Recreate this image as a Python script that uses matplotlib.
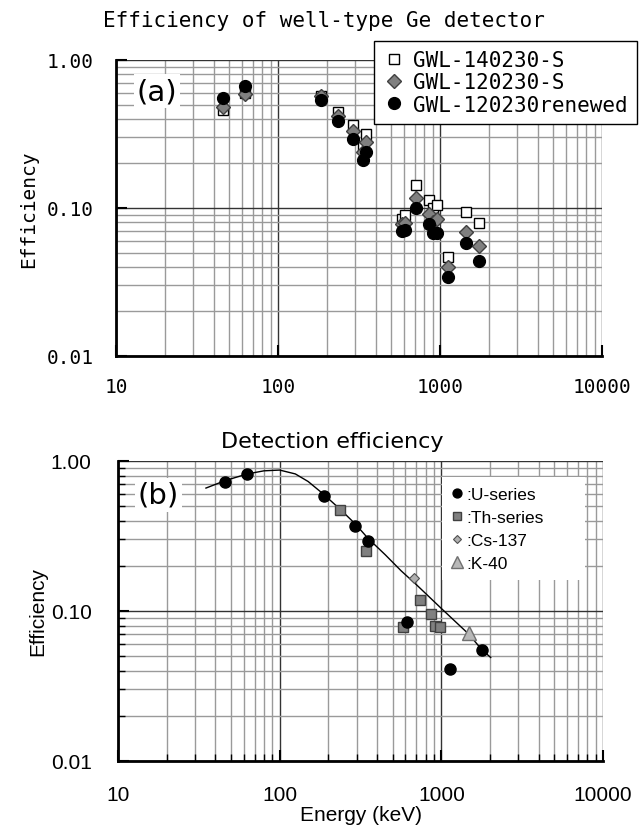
import numpy as np
import matplotlib.pyplot as plt
from matplotlib.patches import Rectangle
from matplotlib.ticker import LogLocator, NullFormatter, FixedLocator, FixedFormatter

# ---- panel (a): well-type Ge detector, three detector states ----
energy_a = [46, 63, 185, 236, 290, 333, 347, 580, 605, 715, 850, 905, 965, 1115, 1450, 1750]
eff_140230 = [0.46, 0.60, 0.574, 0.447, 0.364, 0.257, 0.316, 0.084, 0.090, 0.144, 0.113, 0.100, 0.104, 0.047, 0.094, 0.079]
eff_120230 = [0.48, 0.59, 0.57, 0.42, 0.333, 0.24, 0.278, 0.078, 0.079, 0.116, 0.091, 0.080, 0.084, 0.040, 0.0685, 0.055]
eff_renewed = [0.551, 0.664, 0.537, 0.389, 0.293, 0.212, 0.238, 0.0696, 0.071, 0.100, 0.078, 0.0675, 0.0675, 0.0343, 0.058, 0.044]

# ---- panel (b): detection efficiency by nuclide series ----
u_energy = [46, 63, 187, 294, 352, 612, 1127, 1780]
u_eff = [0.72, 0.82, 0.58, 0.37, 0.295, 0.084, 0.041, 0.055]
th_energy = [237, 342, 583, 733, 866, 918, 981]
th_eff = [0.47, 0.25, 0.078, 0.118, 0.095, 0.079, 0.078]
cs_energy = [673]
cs_eff = [0.165]
k_energy = [1479]
k_eff = [0.071]
fit_energy = [35, 46, 63, 80, 100, 125, 150, 187, 240, 294, 352, 450, 565, 700, 1000, 1480, 1780, 2020]
fit_eff = [0.66, 0.74, 0.82, 0.86, 0.87, 0.82, 0.73, 0.60, 0.47, 0.38, 0.305, 0.237, 0.185, 0.15, 0.104, 0.070, 0.0552, 0.049]

x_ticks = [10, 100, 1000, 10000]
x_labels = ['10', '100', '1000', '10000']
y_ticks = [0.01, 0.1, 1.0]
y_labels = ['0.01', '0.10', '1.00']

mono = 'DejaVu Sans Mono'
sans = 'Liberation Sans'

fig = plt.figure(figsize=(6.43, 8.29), dpi=100)
ax_a = fig.add_axes([116/643, 1-357/829, 486/643, 296/829])
ax_b = fig.add_axes([118/643, 1-762/829, 485/643, 300/829])


def setup(ax, font, size, minor_ticks, xpad, ypad):
    ax.set_xscale('log')
    ax.set_yscale('log')
    ax.set_xlim(10, 10000)
    ax.set_ylim(0.01, 1.0)
    ax.xaxis.set_major_locator(FixedLocator(x_ticks))
    ax.xaxis.set_major_formatter(FixedFormatter(x_labels))
    ax.yaxis.set_major_locator(FixedLocator(y_ticks))
    ax.yaxis.set_major_formatter(FixedFormatter(y_labels))
    ax.xaxis.set_minor_locator(LogLocator(base=10, subs=np.arange(2, 10)))
    ax.yaxis.set_minor_locator(LogLocator(base=10, subs=np.arange(2, 10)))
    ax.xaxis.set_minor_formatter(NullFormatter())
    ax.yaxis.set_minor_formatter(NullFormatter())
    ax.grid(which='major', color='#333333', lw=1.0)
    ax.grid(which='minor', color='#9a9a9a', lw=1.0)
    ax.set_axisbelow(True)
    for s in ['top', 'right']:
        ax.spines[s].set_visible(False)
    for s in ['left', 'bottom']:
        ax.spines[s].set_linewidth(2)
        ax.spines[s].set_color('black')
    ax.tick_params(which='major', direction='in', length=8, width=1.5)
    ax.tick_params(which='minor', direction='in', length=5 if minor_ticks else 0, width=1)
    ax.tick_params(axis='x', which='major', pad=xpad)
    ax.tick_params(axis='y', which='major', pad=ypad)
    for lab in ax.get_xticklabels() + ax.get_yticklabels():
        lab.set_fontfamily(font)
        lab.set_fontsize(size)


# panel (a)
setup(ax_a, mono, 14, False, 15, 16)
ax_a.plot(energy_a, eff_140230, 's', ms=7, mfc='white', mec='black', mew=1, label='GWL-140230-S', zorder=3)
ax_a.plot(energy_a, eff_120230, 'D', ms=7, mfc='#808080', mec='#404040', mew=1, label='GWL-120230-S', zorder=4)
ax_a.plot(energy_a, eff_renewed, 'o', ms=8.5, mfc='black', mec='black', label='GWL-120230renewed', zorder=5)
ax_a.set_ylabel('Efficiency', fontfamily=mono, fontsize=14)
ax_a.yaxis.set_label_coords(-0.160, 0.5)
fig.text(324/643, 1-21/829, 'Efficiency of well-type Ge detector', fontfamily=mono, fontsize=15,
         ha='center', va='center')
ax_a.text(0.084, 0.895, '(a)', transform=ax_a.transAxes, fontsize=21, ha='center', va='center',
          fontfamily='DejaVu Sans', bbox=dict(facecolor='white', edgecolor='none', pad=2), zorder=6)
leg_a = ax_a.legend(loc='upper left', bbox_to_anchor=(374/643, 1-42/829), bbox_transform=fig.transFigure,
                    borderaxespad=0, frameon=True, fancybox=False, edgecolor='black', framealpha=1,
                    prop={'family': mono, 'size': 15}, handlelength=1.0, handletextpad=0.4,
                    labelspacing=0.1, borderpad=0.45)
leg_a.get_frame().set_linewidth(1)

# panel (b)
setup(ax_b, sans, 15, True, 17, 19)
ax_b.add_patch(Rectangle((442/643, 1-581/829), 143/643, 103/829, transform=fig.transFigure,
                         facecolor='white', edgecolor='none', zorder=1))
ax_b.plot(fit_energy, fit_eff, '-', color='black', lw=1, zorder=3)
ax_b.plot(u_energy, u_eff, 'o', ms=8, mfc='black', mec='black', label=':U-series', zorder=5)
ax_b.plot(th_energy, th_eff, 's', ms=7.5, mfc='#808080', mec='#404040', mew=1, label=':Th-series', zorder=4)
ax_b.plot(cs_energy, cs_eff, 'D', ms=5, mfc='#b0b0b0', mec='#505050', mew=0.8, label=':Cs-137', zorder=4)
ax_b.plot(k_energy, k_eff, '^', ms=10, mfc='#b8b8b8', mec='#707070', mew=1, label=':K-40', zorder=4)
ax_b.set_ylabel('Efficiency', fontfamily=sans, fontsize=15)
ax_b.yaxis.set_label_coords(-0.146, 0.5)
ax_b.set_xlabel('Energy (keV)', fontfamily=sans, fontsize=15)
ax_b.xaxis.set_label_coords(0.5, -0.147)
fig.text(332/643, 1-442/829, 'Detection efficiency', fontfamily='DejaVu Sans', fontsize=16,
         ha='center', va='center')
ax_b.text(0.083, 0.887, '(b)', transform=ax_b.transAxes, fontsize=21, ha='center', va='center',
          fontfamily='DejaVu Sans', bbox=dict(facecolor='white', edgecolor='none', pad=2), zorder=6)
leg_b = ax_b.legend(loc='upper left', bbox_to_anchor=(452/643, 1-488/829), bbox_transform=fig.transFigure,
                    borderaxespad=0, frameon=False, prop={'family': sans, 'size': 12.5},
                    handlelength=0.6, handletextpad=0.2, labelspacing=0.45, borderpad=0,
                    markerscale=0.8)

fig.savefig('out.png', dpi=100)
